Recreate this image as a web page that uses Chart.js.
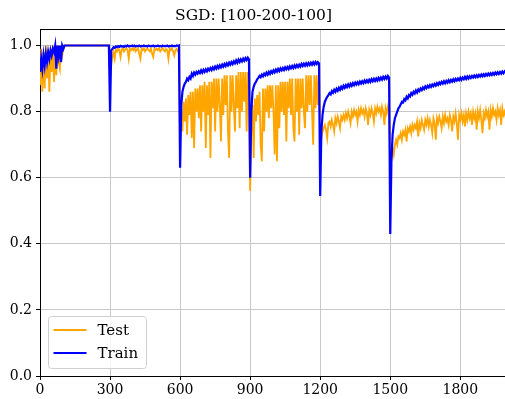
<!DOCTYPE html>
<html>
<head>
<meta charset="utf-8">
<title>SGD: [100-200-100]</title>
<script src="https://cdn.jsdelivr.net/npm/chart.js@4.4.1/dist/chart.umd.min.js"></script>
<style>
  html, body { margin: 0; padding: 0; background: #fff; overflow: hidden; }
  #wrap { width: 507px; height: 399px; }
</style>
</head>
<body>
<div id="wrap"><canvas id="chartSgd"></canvas></div>
<script>
// ==================== DATA ====================
// accuracy sampled every EPOCH_STEP iterations, one row = 100 iterations
const EPOCH_STEP = 5;

const trainAcc = [
  0.92, 0.96, 0.93, 0.97, 0.94, 0.975, 0.95, 0.98, 0.96, 0.985, 0.97, 0.99, 0.98, 1.0, 0.93, 1.0, 0.97, 1.0, 0.95, 1.0,
  0.99, 1.0, 1.0, 1.0, 1.0, 1.0, 1.0, 1.0, 1.0, 1.0, 1.0, 1.0, 1.0, 1.0, 1.0, 1.0, 1.0, 1.0, 1.0, 1.0,
  1.0, 1.0, 1.0, 1.0, 1.0, 1.0, 1.0, 1.0, 1.0, 1.0, 1.0, 1.0, 1.0, 1.0, 1.0, 1.0, 1.0, 1.0, 1.0, 1.0,
  0.80, 0.985, 0.99, 0.995, 0.993, 0.997, 0.995, 0.998, 0.996, 0.999, 0.997, 0.998, 0.996, 0.999, 0.997, 1.0, 0.997, 0.999, 0.998, 1.0,
  0.998, 1.0, 0.997, 0.999, 0.998, 1.0, 0.997, 0.999, 0.998, 1.0, 0.998, 0.999, 0.997, 1.0, 0.998, 0.999, 0.998, 1.0, 0.997, 0.999,
  0.998, 1.0, 0.998, 0.999, 0.997, 1.0, 0.998, 0.999, 0.998, 1.0, 0.997, 0.999, 0.998, 1.0, 0.998, 0.999, 0.998, 1.0, 0.999, 1.0,
  0.63, 0.82, 0.86, 0.875, 0.885, 0.89, 0.90, 0.895, 0.905, 0.90, 0.915, 0.908, 0.918, 0.912, 0.92, 0.915, 0.922, 0.917, 0.925, 0.918,
  0.926, 0.92, 0.928, 0.922, 0.93, 0.925, 0.932, 0.926, 0.934, 0.928, 0.936, 0.93, 0.938, 0.932, 0.94, 0.934, 0.942, 0.936, 0.944, 0.938,
  0.946, 0.94, 0.948, 0.942, 0.95, 0.944, 0.952, 0.946, 0.955, 0.948, 0.957, 0.95, 0.958, 0.952, 0.96, 0.954, 0.962, 0.956, 0.963, 0.958,
  0.60, 0.80, 0.86, 0.875, 0.885, 0.89, 0.898, 0.902, 0.908, 0.904, 0.912, 0.907, 0.915, 0.91, 0.918, 0.912, 0.92, 0.914, 0.922, 0.917,
  0.925, 0.919, 0.927, 0.921, 0.929, 0.923, 0.931, 0.925, 0.932, 0.926, 0.934, 0.928, 0.935, 0.929, 0.937, 0.931, 0.938, 0.932, 0.94, 0.934,
  0.941, 0.935, 0.942, 0.936, 0.944, 0.938, 0.945, 0.939, 0.946, 0.94, 0.947, 0.941, 0.948, 0.942, 0.949, 0.943, 0.95, 0.944, 0.95, 0.946,
  0.545, 0.74, 0.79, 0.815, 0.83, 0.838, 0.845, 0.85, 0.856, 0.852, 0.862, 0.857, 0.866, 0.86, 0.869, 0.863, 0.872, 0.866, 0.875, 0.869,
  0.878, 0.872, 0.88, 0.874, 0.882, 0.876, 0.884, 0.878, 0.886, 0.88, 0.888, 0.882, 0.889, 0.883, 0.891, 0.885, 0.892, 0.886, 0.894, 0.888,
  0.895, 0.889, 0.896, 0.89, 0.898, 0.892, 0.899, 0.893, 0.9, 0.894, 0.902, 0.896, 0.903, 0.897, 0.905, 0.899, 0.906, 0.9, 0.908, 0.903,
  0.43, 0.65, 0.73, 0.76, 0.78, 0.79, 0.80, 0.81, 0.815, 0.822, 0.83, 0.828, 0.838, 0.834, 0.845, 0.84, 0.85, 0.846, 0.856, 0.851,
  0.86, 0.855, 0.864, 0.858, 0.867, 0.862, 0.87, 0.865, 0.873, 0.868, 0.876, 0.871, 0.878, 0.873, 0.88, 0.875, 0.882, 0.877, 0.884, 0.879,
  0.886, 0.881, 0.888, 0.883, 0.89, 0.885, 0.892, 0.886, 0.893, 0.888, 0.895, 0.889, 0.896, 0.891, 0.898, 0.892, 0.899, 0.894, 0.9, 0.895,
  0.902, 0.896, 0.903, 0.898, 0.905, 0.899, 0.906, 0.9, 0.907, 0.902, 0.908, 0.903, 0.909, 0.904, 0.91, 0.905, 0.911, 0.906, 0.912, 0.907,
  0.913, 0.908, 0.914, 0.909, 0.915, 0.91, 0.916, 0.911, 0.917, 0.912, 0.918, 0.913, 0.919, 0.914, 0.92, 0.915, 0.921, 0.916, 0.922, 0.918
];

const testAcc = [
  0.88, 0.99, 0.86, 0.98, 0.87, 1.0, 0.90, 0.99, 0.86, 0.97, 0.92, 1.0, 0.89, 0.98, 0.91, 1.0, 0.95, 0.93, 1.0, 0.97,
  0.99, 1.0, 1.0, 1.0, 1.0, 1.0, 1.0, 1.0, 1.0, 1.0, 1.0, 1.0, 1.0, 1.0, 1.0, 1.0, 1.0, 1.0, 1.0, 1.0,
  1.0, 1.0, 1.0, 1.0, 1.0, 1.0, 1.0, 1.0, 1.0, 1.0, 1.0, 1.0, 1.0, 1.0, 1.0, 1.0, 1.0, 1.0, 1.0, 1.0,
  0.90, 0.94, 0.965, 0.98, 0.96, 0.988, 0.982, 0.99, 0.986, 0.965, 0.988, 0.992, 0.982, 0.988, 0.992, 0.986, 0.96, 0.99, 0.986, 0.992,
  0.986, 0.992, 0.982, 0.988, 0.992, 0.975, 0.96, 0.99, 0.986, 0.992, 0.982, 0.988, 0.992, 0.986, 0.982, 0.99, 0.975, 0.965, 0.99, 0.986,
  0.99, 0.986, 0.992, 0.982, 0.988, 0.992, 0.986, 0.982, 0.99, 0.986, 0.96, 0.99, 0.986, 0.992, 0.982, 0.97, 0.986, 0.99, 0.982, 0.986,
  0.72, 0.80, 0.74, 0.83, 0.77, 0.84, 0.73, 0.85, 0.79, 0.86, 0.72, 0.86, 0.69, 0.87, 0.80, 0.87, 0.78, 0.88, 0.74, 0.88,
  0.80, 0.89, 0.69, 0.88, 0.79, 0.89, 0.66, 0.89, 0.81, 0.90, 0.74, 0.90, 0.80, 0.90, 0.82, 0.71, 0.90, 0.79, 0.91, 0.82,
  0.91, 0.74, 0.66, 0.91, 0.80, 0.91, 0.82, 0.74, 0.91, 0.81, 0.92, 0.75, 0.92, 0.80, 0.92, 0.83, 0.92, 0.74, 0.92, 0.82,
  0.56, 0.75, 0.82, 0.66, 0.84, 0.77, 0.85, 0.79, 0.86, 0.70, 0.65, 0.87, 0.74, 0.87, 0.80, 0.88, 0.78, 0.88, 0.81, 0.88,
  0.80, 0.67, 0.88, 0.65, 0.88, 0.75, 0.89, 0.80, 0.89, 0.79, 0.89, 0.71, 0.89, 0.81, 0.90, 0.79, 0.90, 0.75, 0.71, 0.90,
  0.80, 0.90, 0.73, 0.90, 0.81, 0.90, 0.80, 0.75, 0.91, 0.80, 0.91, 0.82, 0.91, 0.80, 0.70, 0.91, 0.81, 0.91, 0.82, 0.91,
  0.70, 0.72, 0.74, 0.75, 0.76, 0.745, 0.72, 0.765, 0.77, 0.755, 0.775, 0.76, 0.74, 0.78, 0.765, 0.785, 0.77, 0.75, 0.785, 0.775,
  0.79, 0.775, 0.795, 0.78, 0.80, 0.785, 0.765, 0.80, 0.785, 0.805, 0.79, 0.80, 0.77, 0.805, 0.79, 0.81, 0.795, 0.805, 0.785, 0.81,
  0.795, 0.76, 0.805, 0.79, 0.81, 0.795, 0.77, 0.81, 0.795, 0.815, 0.80, 0.81, 0.79, 0.815, 0.80, 0.76, 0.81, 0.795, 0.815, 0.80,
  0.63, 0.655, 0.69, 0.67, 0.70, 0.715, 0.70, 0.725, 0.72, 0.735, 0.715, 0.74, 0.73, 0.745, 0.71, 0.75, 0.74, 0.755, 0.735, 0.76,
  0.745, 0.76, 0.75, 0.77, 0.725, 0.765, 0.75, 0.775, 0.76, 0.745, 0.775, 0.76, 0.78, 0.755, 0.775, 0.76, 0.735, 0.78, 0.765, 0.715,
  0.78, 0.765, 0.785, 0.77, 0.75, 0.785, 0.765, 0.79, 0.77, 0.78, 0.76, 0.79, 0.775, 0.74, 0.785, 0.77, 0.795, 0.765, 0.715, 0.79,
  0.775, 0.795, 0.77, 0.79, 0.755, 0.795, 0.775, 0.80, 0.78, 0.795, 0.76, 0.80, 0.78, 0.795, 0.745, 0.80, 0.78, 0.805, 0.775, 0.735,
  0.795, 0.78, 0.805, 0.785, 0.80, 0.745, 0.805, 0.785, 0.81, 0.79, 0.80, 0.775, 0.81, 0.79, 0.805, 0.76, 0.81, 0.79, 0.80, 0.78
];

const epochs = trainAcc.map((_, i) => i * EPOCH_STEP);
const xTicks = [0, 300, 600, 900, 1200, 1500, 1800];
const yTicks = [0.0, 0.2, 0.4, 0.6, 0.8, 1.0];

const SERIF = "'DejaVu Serif', 'Liberation Serif', serif";
const GRID = "#c8c8c8";

// ==================== PLUGINS ====================
// top spine + boxed legend drawn inside the plot, lower left
const frameAndLegend = {
  id: "frameAndLegend",
  afterDraw(chart) {
    const { ctx, chartArea } = chart;
    ctx.save();
    ctx.strokeStyle = "#000";
    ctx.lineWidth = 1;
    ctx.beginPath();
    ctx.moveTo(chartArea.left, chartArea.top + 0.5);
    ctx.lineTo(chartArea.right, chartArea.top + 0.5);
    ctx.stroke();

    const bx = chartArea.left + 8.5, by = chartArea.bottom - 59.5;
    const bw = 98, bh = 52;
    ctx.fillStyle = "rgba(255,255,255,0.8)";
    ctx.strokeStyle = "#d0d0d0";
    ctx.beginPath();
    ctx.roundRect(bx, by, bw, bh, 3);
    ctx.fill();
    ctx.stroke();

    ctx.font = "15px " + SERIF;
    ctx.textBaseline = "middle";
    ctx.textAlign = "left";
    chart.data.datasets.forEach((ds, i) => {
      const rowY = by + 13.5 + i * 23;
      ctx.strokeStyle = ds.borderColor;
      ctx.lineWidth = 2;
      ctx.beginPath();
      ctx.moveTo(bx + 5, rowY);
      ctx.lineTo(bx + 38, rowY);
      ctx.stroke();
      ctx.fillStyle = "#000";
      ctx.fillText(ds.label, bx + 49, rowY + 1);
    });
    ctx.restore();
  }
};

// ==================== CHART ====================
const ctx = document.getElementById("chartSgd").getContext("2d");
new Chart(ctx, {
  type: "line",
  data: {
    datasets: [
      {
        label: "Test",
        data: testAcc.map((v, i) => ({ x: epochs[i], y: v })),
        borderColor: "#FFA500",
        borderWidth: 1.8,
        pointRadius: 0,
        order: 1
      },
      {
        label: "Train",
        data: trainAcc.map((v, i) => ({ x: epochs[i], y: v })),
        borderColor: "#0000FF",
        borderWidth: 2.2,
        pointRadius: 0,
        order: 0
      }
    ]
  },
  options: {
    responsive: true,
    maintainAspectRatio: false,
    animation: false,
    layout: { padding: { left: 0, right: 0, top: 0, bottom: 0 } },
    plugins: {
      legend: { display: false },
      tooltip: { enabled: false },
      title: {
        display: true,
        text: "SGD: [100-200-100]",
        color: "#000",
        font: { family: SERIF, size: 15.5, weight: "normal" },
        padding: { top: 7, bottom: 3.4 }
      }
    },
    scales: {
      x: {
        type: "linear",
        min: 0,
        max: 2000,
        afterFit: s => { s.height = 23; },
        afterBuildTicks: s => { s.ticks = xTicks.map(v => ({ value: v })); },
        ticks: { color: "#000", font: { family: SERIF, size: 14 }, padding: 2, maxRotation: 0, callback: v => String(v) },
        grid: { color: GRID, lineWidth: 1, tickLength: 4, tickColor: "#000" },
        border: { color: "#000", width: 1 }
      },
      y: {
        min: 0,
        max: 1.05,
        afterFit: s => { s.width = 40; },
        afterBuildTicks: s => { s.ticks = yTicks.map(v => ({ value: v })); },
        ticks: { color: "#000", font: { family: SERIF, size: 14 }, padding: 4, callback: v => v.toFixed(1) },
        grid: { color: GRID, lineWidth: 1, tickLength: 4, tickColor: "#000" },
        border: { color: "#000", width: 1 }
      }
    }
  },
  plugins: [frameAndLegend]
});
</script>
</body>
</html>
